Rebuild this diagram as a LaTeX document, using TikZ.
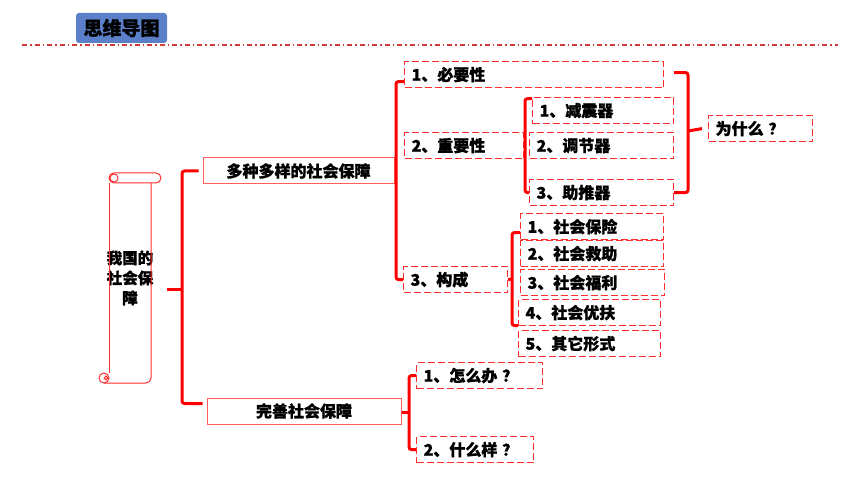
\documentclass[tikz,border=0pt]{standalone}
\usepackage{fontspec}
\newfontfamily\cjk{Noto Sans CJK SC}[BoldFeatures={FakeBold=1}]
\usetikzlibrary{positioning}
\definecolor{titleblue}{RGB}{91,127,201}
\definecolor{boxred}{RGB}{255,45,45}
\definecolor{lightred}{RGB}{255,95,95}
\definecolor{linered}{RGB}{210,60,60}
\tikzset{
  titlebox/.style={fill=titleblue,rounded corners=3pt,minimum width=91pt,minimum height=30pt,inner sep=0pt,font=\cjk\bfseries\fontsize{19}{22}\selectfont},
  topline/.style={draw=linered,line width=1.3pt,dash pattern=on 5pt off 3pt on 1.5pt off 3pt},
  dbox/.style={draw=boxred,line width=1.2pt,dash pattern=on 7pt off 3pt,inner xsep=7pt,inner ysep=0pt,minimum height=26pt,align=left,anchor=north west,font=\cjk\bfseries\fontsize{16}{18}\selectfont},
  sbox/.style={draw=lightred,line width=1pt,inner sep=0pt,font=\cjk\bfseries\fontsize{16}{18}\selectfont},
  brk/.style={draw=red,line width=3pt,rounded corners=2.5pt},
  scrl/.style={draw=boxred,line width=1pt}
}
\newcommand{\qm}{\kern0.3em？}
\begin{document}
\begin{tikzpicture}[x=1pt,y=-1pt]
  \useasboundingbox (0,0) rectangle (860,484);
  % heading
  \node[titlebox] (title) at (121.5,28) {思维导图};
  \draw[topline] (22,45) -- (838,45);

  % scroll on the left
  \node[align=center,inner sep=0pt,font=\cjk\bfseries\fontsize{15.5}{20}\selectfont] (guo) at (130,278) {我国的\\社会保\\障};
  \draw[scrl,rounded corners=5pt] (109,173) rectangle (161,183);
  \draw[scrl] (114,178) circle (4);
  \draw[scrl] (109,183) -- (109,373);
  \draw[scrl,rounded corners=5pt] (151,183) -- (151,383) -- (104,383);
  \draw[scrl] (104,378) circle (5);
  \draw[scrl] (106,378) circle (1.8);

  % main branches
  \node[sbox,minimum width=191pt,minimum height=26pt] (duoyang) at (298.5,171) {多种多样的社会保障};
  \node[sbox,minimum width=194pt,minimum height=26pt] (wanshan) at (304,411) {完善社会保障};

  % dashed boxes
  \foreach \nm/\px/\py/\tw/\lbl in {bixu/404/61/245/1、必要性, zhongyao/404/132/105/2、重要性,
      goucheng/403/266/90/3、构成, jianzhen/532/97/127/1、减震器, tiaojie/529/132/130/2、调节器,
      tuijin/529/179/130/3、助推器, weishenme/708/115/90/为什么\qm, baoxian/520/213/129/1、社会保险,
      jiuzhu/520/240/129/2、社会救助, fuli/520/269/130/3、社会福利, youfu/518/299/128/4、社会优扶,
      qita/518/330/128/5、其它形式, zenme/416/362/112/1、怎么办\qm, shenme/416/436/103/2、什么样\qm}
    \node[dbox,text width=\tw pt] (\nm) at (\px,\py) {\lbl};

  % brackets
  \coordinate (m1) at (182,289);
  \draw[brk] ([xshift=-4pt]duoyang.west) -| (m1) |- ([shift={(-4,6)}]wanshan.north west);
  \draw[brk] (m1) -- ++(-15,0);

  \coordinate (b2) at (396,179);
  \draw[brk] ([shift={(0,7)}]bixu.west) -| (b2) |- (goucheng.west);
  \draw[brk] (duoyang.east |- b2) -- (b2);

  \coordinate (b3) at (525,145);
  \draw[brk] ([shift={(0,-12)}]jianzhen.west) -| (b3) |- (tuijin.west);
  \draw[brk] (zhongyao.east) -- (b3);

  \coordinate (b4) at (688,131);
  \draw[brk] ([shift={(10,-2)}]bixu.east) -| (b4) |- (tuijin.east);
  \draw[brk] (b4) -- ([xshift=-6pt]weishenme.west);

  \coordinate (b5) at (512,279);
  \draw[brk] ([shift={(0,6)}]baoxian.west) -| (b5) |- ([shift={(0,13)}]youfu.west);
  \draw[brk] (goucheng.east) -- (b5);

  \coordinate (b6) at (409,412);
  \draw[brk] (zenme.west) -| (b6) |- (shenme.west);
  \draw[brk] (wanshan.east |- b6) -- (b6);
\end{tikzpicture}
\end{document}
